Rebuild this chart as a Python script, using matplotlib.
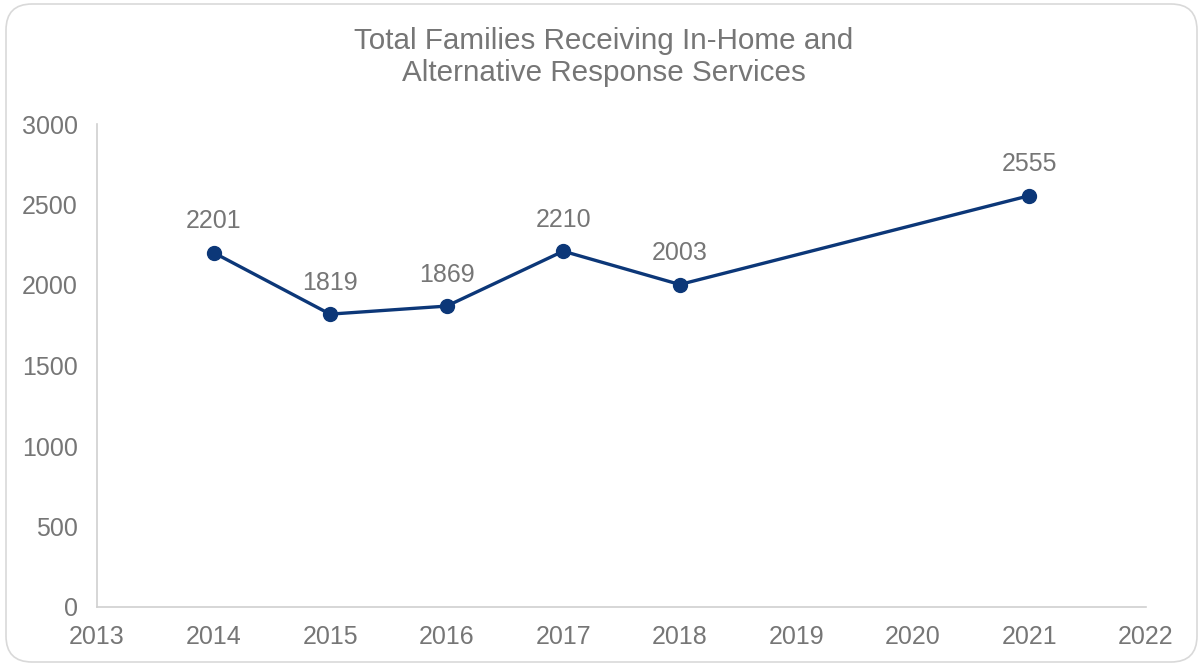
import matplotlib
matplotlib.use("Agg")
import matplotlib.pyplot as plt
from matplotlib.patches import FancyBboxPatch

plt.rcParams['font.family'] = ['Liberation Sans', 'DejaVu Sans']

years = [2014, 2015, 2016, 2017, 2018, 2021]
families = [2201, 1819, 1869, 2210, 2003, 2555]
x_ticks = list(range(2013, 2023))
y_ticks = [0, 500, 1000, 1500, 2000, 2500, 3000]

text_color = '#767676'
line_color = '#0c3778'

W, H = 1201, 665
fig = plt.figure(figsize=(W / 100, H / 100), dpi=100)

# rounded chart frame, drawn beneath the axes
frame = FancyBboxPatch((6, 3), W - 10, H - 7,
                       boxstyle="round,pad=0,rounding_size=26",
                       transform=None, facecolor='white',
                       edgecolor='#d9d9d9', linewidth=1.2, zorder=-5)
fig.patches.append(frame)

ax = fig.add_axes([97 / W, 1 - 607 / H, (1146 - 97) / W, (607 - 124) / H])
ax.set_facecolor('none')
ax.set_zorder(2)

ax.plot(years, families, color=line_color, linewidth=2.4,
        marker='o', markersize=10, zorder=3, clip_on=False)
for x, y in zip(years, families):
    ax.annotate(str(y), (x, y), xytext=(0, 14), textcoords='offset points',
                ha='center', va='bottom', fontsize=18, color=text_color)

ax.set_xlim(2013, 2022)
ax.set_ylim(0, 3000)
ax.set_xticks(x_ticks)
ax.set_yticks(y_ticks)
ax.tick_params(axis='both', length=0, labelsize=18, labelcolor=text_color)
ax.tick_params(axis='x', pad=13)
ax.tick_params(axis='y', pad=14)

for side in ['top', 'right']:
    ax.spines[side].set_visible(False)
for side in ['left', 'bottom']:
    ax.spines[side].set_color('#d0d0d0')
    ax.spines[side].set_linewidth(1.2)

fig.text(604 / W, 1 - 57 / H,
         'Total Families Receiving In-Home and\nAlternative Response Services',
         ha='center', va='center', fontsize=21.3, color=text_color,
         linespacing=1.15)

fig.savefig('out.png', dpi=100)
